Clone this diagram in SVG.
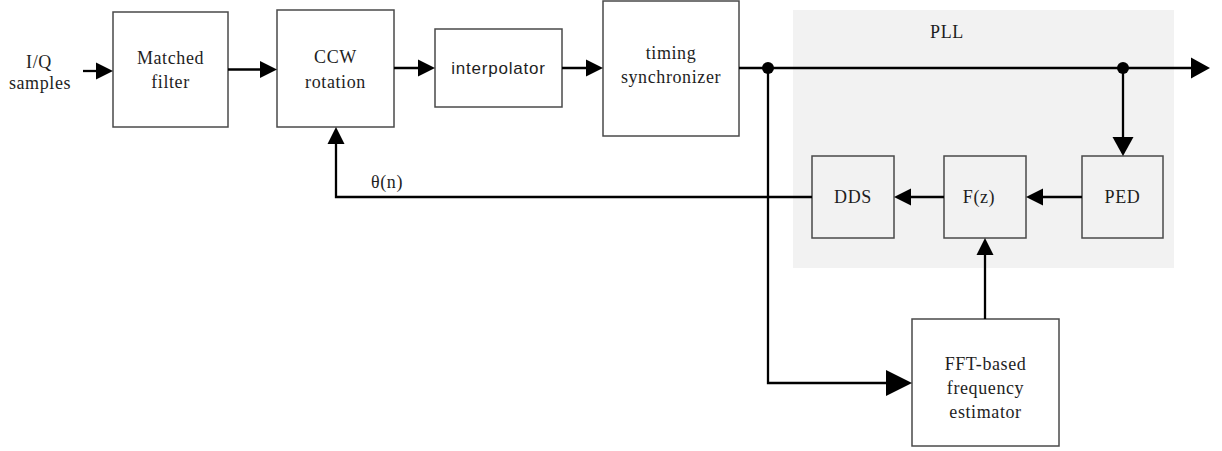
<svg xmlns="http://www.w3.org/2000/svg" width="1222" height="451" viewBox="0 0 1222 451">
  <style>
    .box { fill: #ffffff; stroke: #4a4a4a; stroke-width: 1.5; }
    .pll-box { fill: #f2f2f2; stroke: #4a4a4a; stroke-width: 1.5; }
    .wire { fill: none; stroke: #000000; stroke-width: 2.3; }
    .lbl { font-family: "Liberation Serif", "Times New Roman", serif; font-size: 18px; fill: #1e1e1e; text-anchor: middle; letter-spacing: 0.6px; }
    .sans { font-family: "Liberation Sans", Arial, sans-serif; font-size: 17px; letter-spacing: 0.8px; }
    .dot { fill: #000000; }
  </style>
  <defs>
    <marker id="arrow" markerUnits="userSpaceOnUse" markerWidth="17" markerHeight="17" refX="8.5" refY="8.5" orient="auto" overflow="visible">
      <path d="M0,0 L17,8.5 L0,17 Z" fill="#000"/>
    </marker>
    <marker id="arrowMid" markerUnits="userSpaceOnUse" markerWidth="19" markerHeight="21" refX="9.5" refY="10.5" orient="auto" overflow="visible">
      <path d="M0,0 L19,10.5 L0,21 Z" fill="#000"/>
    </marker>
    <marker id="arrowBig" markerUnits="userSpaceOnUse" markerWidth="26" markerHeight="26" refX="13" refY="13" orient="auto" overflow="visible">
      <path d="M0,0 L26,13 L0,26 Z" fill="#000"/>
    </marker>
  </defs>

  <!-- PLL region -->
  <g id="pll">
    <rect x="793" y="10" width="381" height="258" fill="#f2f2f2"/>
    <text class="lbl" x="947" y="38">PLL</text>
  </g>

  <!-- input label -->
  <g id="input">
    <text class="lbl" x="39" y="68">I/Q</text>
    <text class="lbl" x="40" y="89">samples</text>
  </g>

  <g id="matched-filter">
    <rect class="box" x="113" y="12" width="115" height="115"/>
    <text class="lbl" x="170.5" y="64">Matched</text>
    <text class="lbl" x="170.5" y="88">filter</text>
  </g>

  <g id="ccw-rotation">
    <rect class="box" x="277" y="10" width="117" height="117"/>
    <text class="lbl" x="335.5" y="63">CCW</text>
    <text class="lbl" x="335.5" y="88">rotation</text>
  </g>

  <g id="interpolator">
    <rect class="box" x="435" y="29" width="127" height="78"/>
    <text class="lbl sans" x="498.5" y="74">interpolator</text>
  </g>

  <g id="timing-synchronizer">
    <rect class="box" x="603" y="1" width="136" height="135"/>
    <text class="lbl" x="671" y="59">timing</text>
    <text class="lbl" x="671" y="83">synchronizer</text>
  </g>

  <g id="ped">
    <rect class="pll-box" x="1082" y="156" width="81" height="82"/>
    <text class="lbl" x="1122.5" y="203">PED</text>
  </g>

  <g id="loop-filter">
    <rect class="pll-box" x="944" y="156" width="82" height="82"/>
    <text class="lbl" x="979" y="203">F(z)</text>
  </g>

  <g id="dds">
    <rect class="pll-box" x="812" y="156" width="82" height="82"/>
    <text class="lbl" x="853" y="203">DDS</text>
  </g>

  <g id="fft-estimator">
    <rect class="box" x="912" y="319" width="147" height="127"/>
    <text class="lbl" x="985.5" y="370">FFT-based</text>
    <text class="lbl" x="985.5" y="394">frequency</text>
    <text class="lbl" x="985.5" y="418">estimator</text>
  </g>

  <g id="theta-label">
    <text class="lbl" x="387" y="188">θ(n)</text>
  </g>

  <!-- signal paths -->
  <g id="connectors">
    <path class="wire" d="M83,71 L104.5,71" marker-end="url(#arrow)"/>
    <path class="wire" d="M228,69.5 L268.5,69.5" marker-end="url(#arrow)"/>
    <path class="wire" d="M394,68 L426.5,68" marker-end="url(#arrow)"/>
    <path class="wire" d="M562,68 L594.5,68" marker-end="url(#arrow)"/>
    <!-- main output line -->
    <path class="wire" d="M739,68 L1200.5,68" marker-end="url(#arrowMid)"/>
    <!-- tap to phase error detector -->
    <path class="wire" d="M1123,68 L1123,146.5" marker-end="url(#arrowMid)"/>
    <!-- loop internals -->
    <path class="wire" d="M1082,197 L1034.5,197" marker-end="url(#arrow)"/>
    <path class="wire" d="M944,197 L902.5,197" marker-end="url(#arrow)"/>
    <!-- phase feedback to rotator -->
    <path class="wire" d="M812,197 L336,197 L336,135.5" marker-end="url(#arrow)"/>
    <!-- tap to frequency estimator -->
    <path class="wire" d="M768,68 L768,383 L899,383" marker-end="url(#arrowBig)"/>
    <!-- estimator to loop filter -->
    <path class="wire" d="M985,319 L985,246.5" marker-end="url(#arrow)"/>
    <circle class="dot" cx="768" cy="68" r="6"/>
    <circle class="dot" cx="1123" cy="68" r="6"/>
  </g>
</svg>
